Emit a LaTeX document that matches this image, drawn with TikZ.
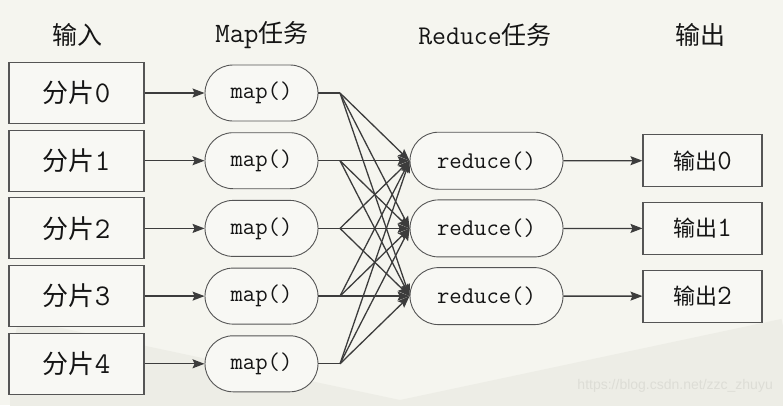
\documentclass[tikz,border=0pt]{standalone}
\usepackage{fontspec}
\newfontfamily\cjk{Noto Sans CJK SC}
\newfontfamily\wmfont{Liberation Sans}
\usetikzlibrary{arrows.meta,shapes.misc}
\definecolor{bg}{HTML}{F5F5EF}
\definecolor{fan}{HTML}{EDEDE6}
\definecolor{edge}{HTML}{555555}
\definecolor{ln}{HTML}{3C3C3C}
\definecolor{boxfill}{HTML}{F8F8F4}
\definecolor{txt}{HTML}{151515}
\definecolor{wm}{HTML}{DDDDD6}
\newcommand\zh[1]{{\cjk #1}}
\newcommand\lt[2]{{\fontsize{#1}{#1}\selectfont\ttfamily #2}}
\begin{document}
\begin{tikzpicture}[x=1pt,y=-1pt,
  inbox/.style={draw=edge, fill=boxfill, line width=1.1pt, minimum width=135pt, minimum height=61pt, inner sep=0pt, text=txt, font=\fontsize{26}{26}\selectfont},
  outbox/.style={draw=edge, fill=boxfill, line width=1.1pt, minimum width=119pt, minimum height=52pt, inner sep=0pt, text=txt, font=\fontsize{22}{22}\selectfont},
  task/.style={draw=edge, fill=boxfill, line width=0.9pt, rounded rectangle, inner sep=0pt, text=txt, font=\fontsize{24}{24}\selectfont\ttfamily},
  mapnode/.style={task, minimum width=113pt, minimum height=56pt},
  rednode/.style={task, minimum width=153pt, minimum height=57pt},
  head/.style={text=txt, inner sep=0pt, font=\fontsize{25}{25}\selectfont},
  arr/.style={draw=ln, line width=1.3pt, -{Stealth[length=12pt,width=9pt,inset=2pt]}},
  plain/.style={draw=ln, line width=1.3pt}
]
% background
\fill[bg] (0,0) rectangle (783,405);
\begin{scope}
\clip (0,0) rectangle (783,405);
\fill[fan] (400,400) -- ++(-12:390) arc[start angle=-12, end angle=192, radius=390] -- cycle;
\end{scope}
\useasboundingbox (0,0) rectangle (783,405);

% headers
\node[head] (h1) at (77,35) {\zh{输入}};
\node[head] (h2) at (262,35) {\lt{28}{Map}\zh{任务}};
\node[head] (h3) at (485,35) {\lt{27}{Reduce}\zh{任务}};
\node[head] (h4) at (700,35) {\zh{输出}};

% inputs and maps
\foreach \i/\y in {0/93,1/160.7,2/228.4,3/296.1,4/363.8}{
  \node[inbox] (in\i) at (76.5,\y) {\zh{分片}\lt{30}{\i}};
  \node[mapnode] (map\i) at (261.5,\y) {map()};
  \coordinate (j\i) at (340,\y);
  \draw[arr] (in\i) -- (map\i);
  \draw[plain] (map\i.east) -- (j\i);
}

% reduces and outputs
\foreach \r/\y in {0/160.7,1/228.4,2/296.1}{
  \node[rednode] (red\r) at (486.5,\y) {reduce()};
  \node[outbox] (out\r) at (702.5,\y) {\zh{输出}\lt{28}{\r}};
  \draw[arr] (red\r) -- (out\r);
}

% shuffle
\foreach \i in {0,...,4}{
  \foreach \r in {0,1,2}{
    \draw[arr] (j\i) -- (red\r.west);
  }
}

% watermark
\node[text=wm, inner sep=0pt, anchor=east, font=\wmfont\fontsize{14}{14}\selectfont] (wmk) at (773,386) {https://blog.csdn.net/zzc\_zhuyu};
\end{tikzpicture}
\end{document}
